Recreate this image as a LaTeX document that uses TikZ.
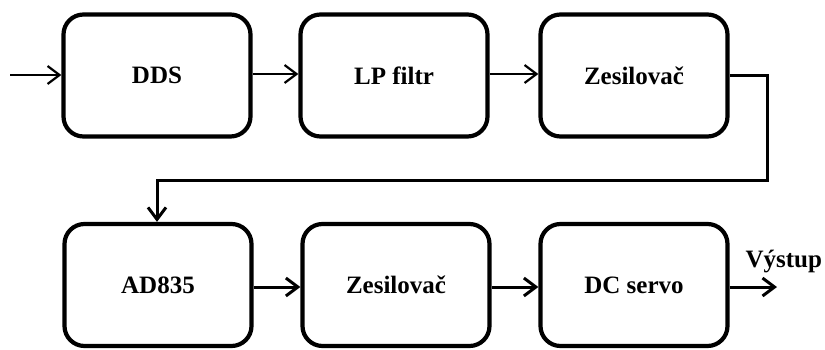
\documentclass[tikz,border=0pt]{standalone}
\usepackage{fontspec}
\setmainfont{Liberation Serif}
\usetikzlibrary{arrows.meta}
\begin{document}
\begin{tikzpicture}[x=1pt,y=-1pt,
  blk/.style={draw, line width=4.2pt, rounded corners=20pt, minimum width=187pt, minimum height=122pt, inner sep=0pt, font=\fontsize{25}{29}\selectfont\bfseries},
  con/.style={line width=2.2pt, -{Straight Barb[length=12pt,width=18pt,line width=2.2pt]}},
  conb/.style={line width=3pt, -{Straight Barb[length=12pt,width=18pt,line width=3pt]}},
  wire/.style={line width=3pt}]
\useasboundingbox (0,0) rectangle (825,349);
\node[blk] (dds) at (157,75.5) {DDS};
\node[blk] (lp) at (394,75.5) {LP filtr};
\node[blk] (zes1) at (634,75.5) {Zesilovač};
\node[blk] (ad) at (158,285) {AD835};
\node[blk] (zes2) at (396,285) {Zesilovač};
\node[blk] (dc) at (634,285) {DC servo};
\coordinate (in) at (10,75);
\coordinate (out) at (777,287);
\coordinate (c1) at (767,75);
\coordinate (c2) at (767,180);
\coordinate (c3) at (157,180);
\node[font=\fontsize{25}{29}\selectfont\bfseries, anchor=west] (vy) at (742,262) {Výstup};
\draw[con] (in) -- (dds.west |- in);
\draw[con] (dds.east |- 0,74) -- (lp.west |- 0,74);
\draw[con] (lp.east |- 0,74) -- (zes1.west |- 0,74);
\draw[wire, line join=miter] (zes1.east |- c1) -- (c1) -- (c2) -- (c3) -- ++(0,10);
\draw[conb] (c3) -- (c3 |- ad.north);
\draw[conb] (ad.east |- 0,287) -- (zes2.west |- 0,287);
\draw[conb] (zes2.east |- 0,287) -- (dc.west |- 0,287);
\draw[conb] (dc.east |- out) -- (out);
\end{tikzpicture}
\end{document}
